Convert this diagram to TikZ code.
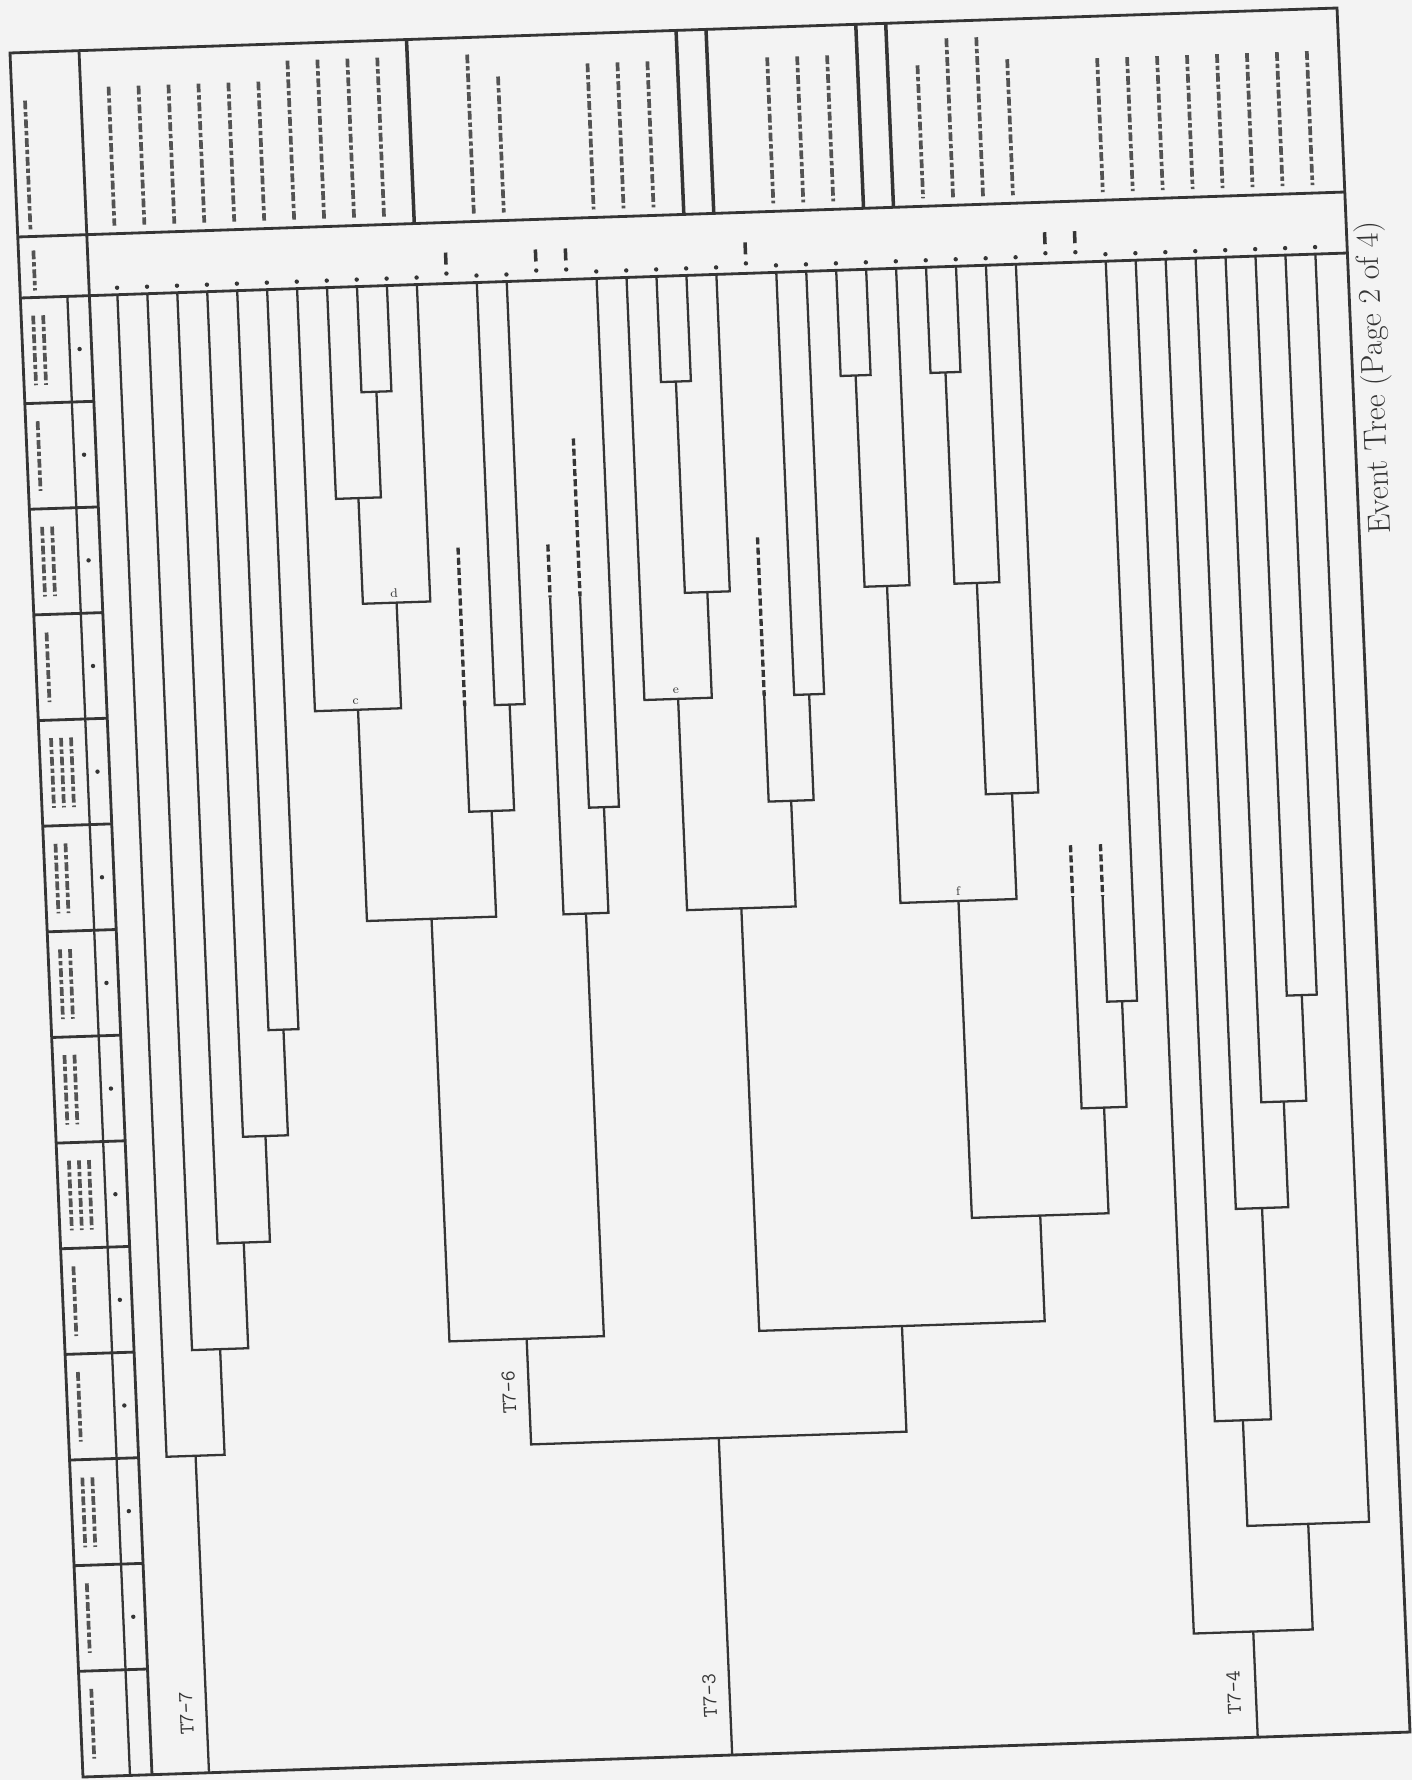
\documentclass[tikz,border=0pt]{standalone}
\usepackage{tikz}
\usetikzlibrary{calc}
\definecolor{ink}{HTML}{353535}
\definecolor{paper}{HTML}{F3F3F3}
\newcommand\tn[3]{\coordinate (#1) at ({97+29.95*(#2)},{-245-105.64*(#3)});}
\begin{document}
\begin{tikzpicture}[x=0.02cm,y=0.02cm,
  br/.style={draw=ink,line width=1.3pt},
  dbr/.style={draw=ink,line width=1.9pt,dash pattern=on 4pt off 1.8pt},
  frm/.style={draw=ink,line width=1.6pt},
  tm/.style={draw=ink!85,line width=2.1pt,dash pattern=on 5pt off 1.6pt on 2.5pt off 1.6pt},
  lab/.style={font=\fontsize{12}{14}\selectfont\ttfamily,text=ink,rotate=90,inner sep=0pt},
  sml/.style={font=\fontsize{7}{8}\selectfont,text=ink,inner sep=0pt},
  capt/.style={font=\fontsize{18}{20}\selectfont,text=ink,rotate=90,inner sep=0pt}
]
\fill[paper] (0,0) rectangle (1412,-1780);
\useasboundingbox (0,0) rectangle (1412,-1780);
\begin{scope}[transform canvas={shift={(10,-53)},cm={1,0.0339,-0.04234,1,(0,0)}}]
% ---------- frame and header strip ----------
\draw[frm] (0,0) rectangle (1327,-1724);
\draw[frm] (0,-184) -- (1327,-184);
\draw[frm] (0,-245) -- (1327,-245);
\draw[frm] (69,0) -- (69,-1724);
\draw[br] (47,-245) -- (47,-1724);
\foreach \i in {1,...,13} \draw[frm] (0,{-245-105.64*\i}) -- (69,{-245-105.64*\i});
% header texts (illegible in the reference)
\draw[tm] (13,-48) -- (13,-178);
\draw[tm] (15,-198) -- (15,-238);
\foreach \i/\n in {0/2,1/1,2/2,3/1,4/3,5/2,6/2,7/2,8/3,9/1,10/1,11/2,12/1,13/1}{
  \foreach \c in {1,...,\n}{
    \draw[tm] ({2+10*\c},{-245-105.64*\i-18}) -- ({2+10*\c},{-245-105.64*(\i+1)+18});
  }
}
\foreach \i in {0,...,12} \fill[ink] (57,{-245-105.64*\i-53}) circle (2.2);
% ---------- end-state band ----------
\foreach \k/\t in {0/37,1/37,2/37,3/37,4/37,5/37,6/17,7/17,8/17,9/17,12/17,13/40,16/30,17/30,18/30,
   22/30,23/30,24/30,27/43,28/17,29/17,30/40,33/42,34/42,35/42,36/42,37/42,38/42,39/42,40/42}
  \draw[tm] ({97+29.95*\k},{-\t}) -- ({97+29.95*\k},-176);
\foreach \k in {10,19,20,25,26} \draw[line width=2pt,draw=ink] ({97+29.95*\k},0) -- ({97+29.95*\k},-184);
\foreach \k in {0,...,10,12,13,16,17,18,19,20,22,23,24,25,26,27,28,29,30,33,34,35,36,37,38,39,40}
  \fill[ink] ({97+29.95*\k},-238) circle (2.2);
\foreach \k in {11,14,15,21,31,32}{
  \draw[line width=2pt,draw=ink] ({97+29.95*\k},-214) -- ({97+29.95*\k},-226);
  \fill[ink] ({97+29.95*\k},-235) circle (2.2);
}
% ---------- tree ----------
\coordinate (bot) at (0,-1724);
\foreach \k in {0,...,40} \coordinate (L\k) at ({97+29.95*\k},-245);
\tn{L11}{11}{4}  \tn{L14}{14}{3}  \tn{L15}{15}{3}  \tn{L21}{21}{4}  \tn{L31}{31}{6}  \tn{L32}{32}{6}
\draw[dbr] ({97+29.95*11},-509) -- (L11);
\draw[dbr] ({97+29.95*14},-509) -- (L14);
\draw[dbr] ({97+29.95*15},-404) -- (L15);
\draw[dbr] ({97+29.95*21},-509) -- (L21);
\draw[dbr] ({97+29.95*31},-827) -- (L31);
\draw[dbr] ({97+29.95*32},-827) -- (L32);
% T7-7
\tn{a45}{4.5}{7}       \draw[br] (L4) |- (a45) -| (L5);
\tn{a3}{3.75}{8}       \draw[br] (L3) |- (a3) -| (a45);
\tn{a2}{2.875}{9}      \draw[br] (L2) |- (a2) -| (a3);
\tn{a1}{1.9375}{10}    \draw[br] (L1) |- (a1) -| (a2);
\tn{a0}{0.96875}{11}   \draw[br] (L0) |- (a0) -| (a1);
\draw[br] (a0) -- (a0 |- bot);
% T7-6
\tn{n89}{8.5}{1}       \draw[br] (L8) |- (n89) -| (L9);
\tn{D}{7.75}{2}        \draw[br] (L7) |- (D) -| (n89);
\tn{D2}{8.875}{3}      \draw[br] (D) |- (D2) -| (L10);
\tn{P}{7.4375}{4}      \draw[br] (L6) |- (P) -| (D2);
\tn{A}{12.5}{4}        \draw[br] (L12) |- (A) -| (L13);
\tn{B}{11.75}{5}       \draw[br] (L11) |- (B) -| (A);
\tn{C}{9.59375}{6}     \draw[br] (P) |- (C) -| (B);
\tn{E}{15.5}{5}        \draw[br] (L15) |- (E) -| (L16);
\tn{F}{14.75}{6}       \draw[br] (L14) |- (F) -| (E);
\tn{S6}{12.171875}{10} \draw[br] (C) |- (S6) -| (F);
% T7-3 right part
\tn{g1}{18.5}{1}       \draw[br] (L18) |- (g1) -| (L19);
\tn{G}{19.25}{3}       \draw[br] (g1) |- (G) -| (L20);
\tn{I}{18.125}{4}      \draw[br] (L17) |- (I) -| (G);
\tn{J}{22.5}{4}        \draw[br] (L22) |- (J) -| (L23);
\tn{K}{21.75}{5}       \draw[br] (L21) |- (K) -| (J);
\tn{Ln}{19.9375}{6}    \draw[br] (I) |- (Ln) -| (K);
\tn{m1}{24.5}{1}       \draw[br] (L24) |- (m1) -| (L25);
\tn{M}{25.25}{3}       \draw[br] (m1) |- (M) -| (L26);
\tn{Z}{27.5}{1}        \draw[br] (L27) |- (Z) -| (L28);
\tn{Y1}{28.25}{3}      \draw[br] (Z) |- (Y1) -| (L29);
\tn{Y}{29.125}{5}      \draw[br] (Y1) |- (Y) -| (L30);
\tn{O}{27.1875}{6}     \draw[br] (M) |- (O) -| (Y);
\tn{V}{32.5}{7}        \draw[br] (L32) |- (V) -| (L33);
\tn{V2}{31.75}{8}      \draw[br] (L31) |- (V2) -| (V);
\tn{T}{29.46875}{9}    \draw[br] (O) |- (T) -| (V2);
\tn{R}{24.703}{10}     \draw[br] (Ln) |- (R) -| (T);
\tn{S3}{18.4375}{11}   \draw[br] (S6) |- (S3) -| (R);
\draw[br] (S3) -- (S3 |- bot);
% T7-4
\tn{q}{38.5}{7}        \draw[br] (L38) |- (q) -| (L39);
\tn{N4}{37.75}{8}      \draw[br] (L37) |- (N4) -| (q);
\tn{N3}{36.875}{9}     \draw[br] (L36) |- (N3) -| (N4);
\tn{N2}{35.9375}{11}   \draw[br] (L35) |- (N2) -| (N3);
\tn{N1}{37.96875}{12}  \draw[br] (N2) |- (N1) -| (L40);
\tn{S4}{35.984}{13}    \draw[br] (L34) |- (S4) -| (N1);
\draw[br] (S4) -- (S4 |- bot);
% branch letters
\node[sml,anchor=south] (lc) at ($(P)+(-2,5)$) {c};
\node[sml,anchor=south] (ld) at ($(D2)+(-2,5)$) {d};
\node[sml,anchor=south] (le) at ($(I)+(-2,5)$) {e};
\node[sml,anchor=south] (lf) at ($(O)+(0,5)$) {f};
% group labels
\node[lab] (t77) at ($(a0 |- bot)+(-20,60)$) {T7-7};
\node[lab] (t73) at ($(S3 |- bot)+(-20,60)$) {T7-3};
\node[lab] (t74) at ($(S4 |- bot)+(-22,45)$) {T7-4};
\node[lab] (t76) at ($(S6)+(-20,-53)$) {T7-6};
% caption
\node[capt,anchor=north east] (cap) at (1334,-214) {Event Tree (Page 2 of 4)};
\end{scope}
\end{tikzpicture}
\end{document}
